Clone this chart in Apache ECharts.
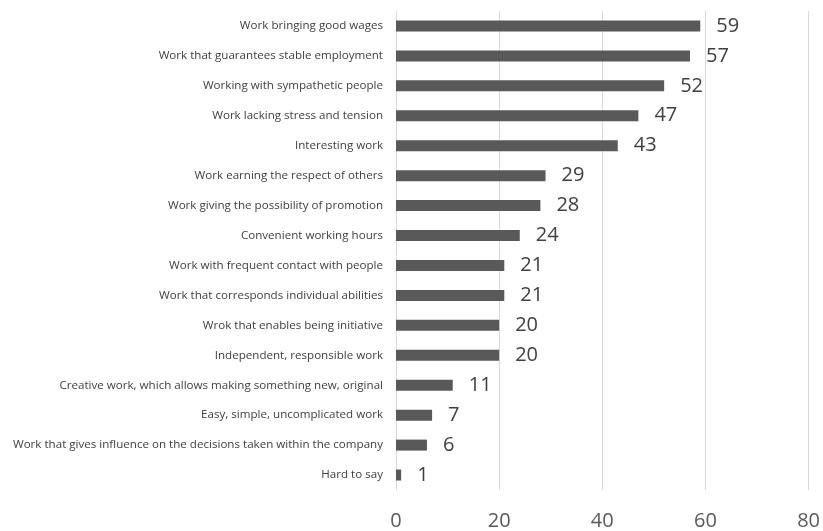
<!DOCTYPE html>
<html>
<head>
<meta charset="utf-8">
<script src="https://cdn.jsdelivr.net/npm/echarts@6/dist/echarts.min.js"></script>
<style>
  html, body { margin: 0; padding: 0; background: #ffffff; }
  #chart { width: 823px; height: 531px; }
</style>
</head>
<body>
<div id="chart"></div>
<script>
// Job features, listed from top to bottom
const categories = [
  "Work bringing good wages",
  "Work that guarantees stable employment",
  "Working with sympathetic people",
  "Work lacking stress and tension",
  "Interesting work",
  "Work earning the respect of others",
  "Work giving the possibility of promotion",
  "Convenient working hours",
  "Work with frequent contact with people",
  "Work that corresponds individual abilities",
  "Wrok that enables being initiative",
  "Independent, responsible work",
  "Creative work, which allows making something new, original",
  "Easy, simple, uncomplicated work",
  "Work that gives influence on the decisions taken within the company",
  "Hard to say"
];
const values = [59, 57, 52, 47, 43, 29, 28, 24, 21, 21, 20, 20, 11, 7, 6, 1];
const xTicks = [0, 20, 40, 60, 80];

const chart = echarts.init(document.getElementById('chart'), null, { renderer: 'canvas' });
chart.setOption({
  animation: false,
  grid: { left: 396, right: 13, top: 11, bottom: 41 },
  xAxis: {
    type: 'value',
    min: xTicks[0],
    max: xTicks[xTicks.length - 1],
    interval: xTicks[1] - xTicks[0],
    axisLine: { show: false },
    axisTick: { show: false },
    splitLine: { show: true, lineStyle: { color: '#d9d9d9', width: 1 } },
    axisLabel: {
      color: '#595959',
      fontFamily: 'Open Sans',
      fontSize: 20,
      margin: 21
    }
  },
  yAxis: {
    type: 'category',
    data: categories,
    inverse: true,
    axisLine: { show: true, lineStyle: { color: '#d9d9d9', width: 1 } },
    axisTick: { show: false },
    axisLabel: {
      color: '#404040',
      fontFamily: 'Open Sans',
      fontSize: 11.6,
      margin: 13
    }
  },
  series: [{
    type: 'bar',
    data: values,
    barWidth: 11,
    itemStyle: { color: '#595959' },
    label: {
      show: true,
      position: 'right',
      distance: 16,
      color: '#404040',
      fontFamily: 'Open Sans',
      fontSize: 20
    }
  }]
});
</script>
</body>
</html>
